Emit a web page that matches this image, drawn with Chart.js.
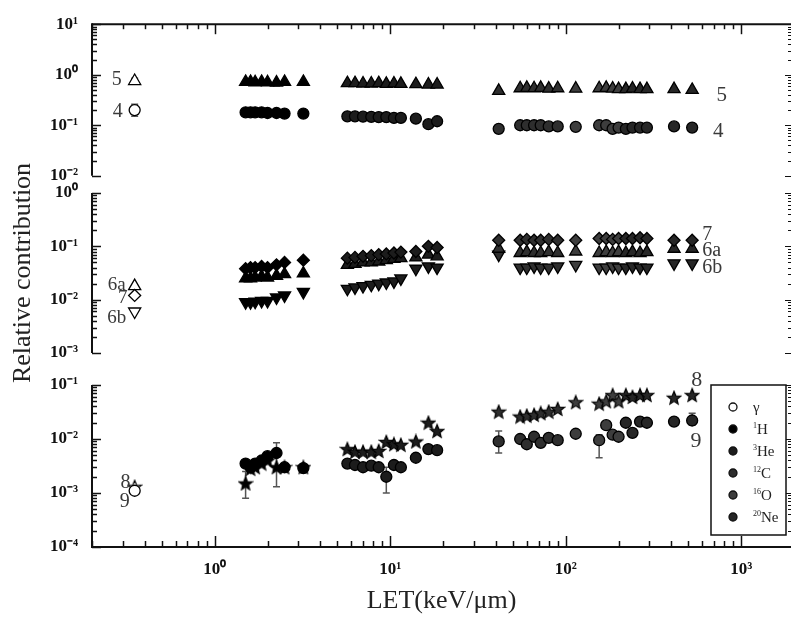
<!DOCTYPE html>
<html>
<head>
    <title>Relative contribution vs LET</title>
    <script src="https://cdn.jsdelivr.net/npm/chart.js@4.4.1/dist/chart.umd.min.js"></script>
    <style>
        body { margin: 0; background: #fff; }
        #wrap { position: relative; width: 792px; height: 619px; overflow: hidden; }
        #wrap canvas { position: absolute; left: 0; }
    </style>
</head>
<body>
<div id="wrap">
    <canvas id="panelTop" width="792" height="200" style="top:0px"></canvas>
    <canvas id="panelMid" width="792" height="270" style="top:140px"></canvas>
    <canvas id="panelBot" width="792" height="259" style="top:360px"></canvas>
</div>
<script>
    // Radiations (legend) - mass number + symbol
    const ionMass = ['', '1', '3', '12', '16', '20'];
    const ionSymbol = ['γ', 'H', 'He', 'C', 'O', 'Ne'];

    // LET (keV/um) of each measured point, grouped by radiation
    const letValues = [
        0.35,                                                      // gamma
        1.5, 1.6, 1.7, 1.85, 2.0, 2.25, 2.5, 3.2,                   // 1H
        5.7, 6.3, 7.0, 7.8, 8.6, 9.5, 10.5, 11.5, 14, 16.5, 18.5,   // 3He
        41.5, 55, 60, 66, 72, 80, 90,                               // 12C
        114, 155, 170, 185, 200,                                    // 16O
        220, 240, 265, 290, 414, 525                                // 20Ne
    ];
    const ionOf = [0, 1,1,1,1,1,1,1,1, 2,2,2,2,2,2,2,2,2,2,2, 3,3,3,3,3,3,3, 4,4,4,4,4, 5,5,5,5,5,5];

    // top panel
    const s5 = [0.75,
        0.72, 0.72, 0.71, 0.72, 0.71, 0.70, 0.72, 0.72,
        0.68, 0.68, 0.67, 0.67, 0.68, 0.66, 0.67, 0.66, 0.65, 0.64, 0.64,
        0.48, 0.54, 0.55, 0.54, 0.55, 0.53, 0.54,
        0.53, 0.54, 0.55, 0.53, 0.52,
        0.52, 0.53, 0.52, 0.52, 0.52, 0.50];
    const s4 = [0.2,
        0.18, 0.18, 0.18, 0.18, 0.175, 0.175, 0.17, 0.17,
        0.15, 0.15, 0.148, 0.147, 0.145, 0.145, 0.14, 0.14, 0.135, 0.105, 0.12,
        0.085, 0.1, 0.1, 0.1, 0.1, 0.095, 0.095,
        0.093, 0.1, 0.1, 0.085, 0.09,
        0.085, 0.09, 0.09, 0.09, 0.095, 0.09];

    // middle panel
    const s7 = [0.012,
        0.038, 0.04, 0.04, 0.042, 0.04, 0.045, 0.05, 0.055,
        0.06, 0.062, 0.065, 0.067, 0.07, 0.072, 0.075, 0.078, 0.08, 0.1, 0.095,
        0.13, 0.13, 0.135, 0.13, 0.13, 0.135, 0.13,
        0.13, 0.14, 0.14, 0.135, 0.14,
        0.14, 0.14, 0.145, 0.14, 0.13, 0.13];
    const s6a = [0.018,
        0.025, 0.025, 0.026, 0.027, 0.026, 0.028, 0.03, 0.031,
        0.045, 0.047, 0.05, 0.05, 0.052, 0.055, 0.058, 0.06, 0.062, 0.07, 0.065,
        0.09, 0.075, 0.078, 0.075, 0.075, 0.078, 0.075,
        0.08, 0.075, 0.078, 0.075, 0.078,
        0.075, 0.078, 0.075, 0.078, 0.09, 0.09];
    const s6b = [0.006,
        0.009, 0.009, 0.0092, 0.0095, 0.0095, 0.011, 0.012, 0.014,
        0.016, 0.017, 0.018, 0.019, 0.02, 0.021, 0.022, 0.025, 0.038, 0.042, 0.04,
        0.07, 0.04, 0.04, 0.042, 0.04, 0.04, 0.042,
        0.045, 0.04, 0.04, 0.042, 0.04,
        0.04, 0.042, 0.04, 0.04, 0.048, 0.048];

    // bottom panel
    const s8 = [0.0013,
        0.0015, 0.0028, 0.003, 0.0035, 0.004, 0.003, 0.003, 0.003,
        0.0065, 0.0058, 0.0058, 0.0058, 0.006, 0.0088, 0.008, 0.0078, 0.009, 0.02, 0.014,
        0.032, 0.026, 0.027, 0.028, 0.03, 0.032, 0.036,
        0.048, 0.045, 0.05, 0.065, 0.05,
        0.065, 0.06, 0.065, 0.065, 0.058, 0.065];
    const s9 = [0.0011,
        0.0035, 0.003, 0.0035, 0.004, 0.0048, 0.0055, 0.003, 0.0029,
        0.0035, 0.0033, 0.003, 0.0032, 0.003, 0.002, 0.0033, 0.003, 0.0045, 0.0065, 0.0062,
        0.009, 0.01, 0.008, 0.011, 0.0085, 0.0105, 0.0095,
        0.0125, 0.0095, 0.018, 0.012, 0.011,
        0.02, 0.013, 0.021, 0.02, 0.021, 0.022];

    // error bars: point index -> [low, high]
    const err5 = {0: [0.65, 0.85], 6: [0.6, 0.72]};
    const err4 = {0: [0.15, 0.26], 6: [0.15, 0.2], 20: [0.07, 0.1]};
    const err8 = {1: [0.0008, 0.0025]};
    const err9 = {6: [0.0013, 0.0085], 14: [0.001, 0.003], 20: [0.0055, 0.014], 28: [0.0045, 0.012], 37: [0.018, 0.03]};

    const FONT = "'Liberation Serif', 'Times New Roman', serif";
    const ionFill = ['#ffffff', '#000000', '#1c1c1c', '#2e2e2e', '#3d3d3d', '#262626'];
    const SUP = {'-': '⁻', '0': '⁰', '1': '¹', '2': '²', '3': '³', '4': '⁴'};

    function powerLabel(v) {
        const e = Math.log10(v);
        if (Math.abs(e - Math.round(e)) > 1e-6) return '';
        return '10' + String(Math.round(e)).split('').map(c => SUP[c]).join('');
    }

    // filled star used as point image
    function makeStar(fill) {
        const c = document.createElement('canvas');
        c.width = c.height = 16;
        const g = c.getContext('2d');
        g.beginPath();
        for (let i = 0; i < 10; i++) {
            const r = i % 2 ? 3.1 : 7.0;
            const a = -Math.PI / 2 + i * Math.PI / 5;
            const px = 8 + r * Math.cos(a), py = 8.5 + r * Math.sin(a);
            if (i) g.lineTo(px, py); else g.moveTo(px, py);
        }
        g.closePath();
        g.fillStyle = fill;
        g.fill();
        g.lineWidth = 1.2;
        g.strokeStyle = '#000';
        g.stroke();
        return c;
    }
    const starImgs = ionFill.map(makeStar);

    const markerSize = {circle: 5.5, triangle: 7, rectRot: 6, star: 7};

    function series(label, values, style, err, rotation) {
        return {
            label: label,
            data: letValues.map((x, i) => ({x: x, y: values[i]})),
            pointStyle: style === 'star' ? ionOf.map(k => starImgs[k]) : style,
            pointRadius: markerSize[style],
            pointRotation: rotation || 0,
            pointBackgroundColor: ionOf.map(k => ionFill[k]),
            pointBorderColor: '#000',
            pointBorderWidth: 1.3,
            showLine: false,
            errorBars: err || {}
        };
    }

    function logSteps(min, max) {
        const out = [];
        for (let e = Math.floor(Math.log10(min)); e <= Math.ceil(Math.log10(max)); e++) {
            for (let k = 1; k <= 9; k++) {
                const v = k * Math.pow(10, e);
                if (v >= min * 0.9999 && v <= max * 1.0001) out.push([v, k === 1]);
            }
        }
        return out;
    }

    // axes frame, inward ticks, error bars, series labels, legend
    function panelDecor(cfg) {
        return {
            id: 'decor',
            beforeDatasetsDraw(chart) {
                const ctx = chart.ctx, xs = chart.scales.x, ys = chart.scales.y;
                ctx.save();
                ctx.strokeStyle = '#555';
                ctx.lineWidth = 1.5;
                chart.data.datasets.forEach(ds => {
                    Object.keys(ds.errorBars).forEach(i => {
                        const [lo, hi] = ds.errorBars[i];
                        const px = xs.getPixelForValue(ds.data[i].x);
                        const y1 = ys.getPixelForValue(lo), y2 = ys.getPixelForValue(hi);
                        ctx.beginPath();
                        ctx.moveTo(px, y1); ctx.lineTo(px, y2);
                        ctx.moveTo(px - 3.5, y1); ctx.lineTo(px + 3.5, y1);
                        ctx.moveTo(px - 3.5, y2); ctx.lineTo(px + 3.5, y2);
                        ctx.stroke();
                    });
                });
                ctx.restore();
            },
            afterDraw(chart) {
                const ctx = chart.ctx, a = chart.chartArea, xs = chart.scales.x, ys = chart.scales.y;
                const seg = (x1, y1, x2, y2, w) => {
                    ctx.lineWidth = w;
                    ctx.beginPath(); ctx.moveTo(x1, y1); ctx.lineTo(x2, y2); ctx.stroke();
                };
                ctx.save();
                ctx.strokeStyle = '#111';
                seg(a.left, a.top - (cfg.top ? 1 : 0), a.left, a.bottom + (cfg.bottom ? 1 : 0), 2);
                if (cfg.top) seg(a.left, a.top, a.right, a.top, 2);
                if (cfg.bottom) seg(a.left, a.bottom, a.right, a.bottom, 2);
                logSteps(ys.min, ys.max).forEach(([v, major]) => {
                    const py = Math.round(ys.getPixelForValue(v)) + 0.5;
                    seg(a.left, py, a.left + (major ? 9 : 5), py, 1.5);
                    seg(a.right, py, a.right - (major ? 6 : 3), py, 1);
                });
                logSteps(xs.min, xs.max).forEach(([v, major]) => {
                    const px = Math.round(xs.getPixelForValue(v)) + 0.5;
                    if (cfg.top) seg(px, a.top, px, a.top + (major ? 10 : 5), 1.5);
                    if (cfg.bottom) seg(px, a.bottom, px, a.bottom - (major ? 11 : 6), 1.5);
                });

                ctx.fillStyle = '#3a3a3a';
                ctx.textBaseline = 'middle';
                cfg.labels.forEach(it => {
                    ctx.font = it.size + 'px ' + FONT;
                    ctx.textAlign = it.align || 'center';
                    ctx.fillText(it.text, xs.getPixelForValue(it.x), ys.getPixelForValue(it.y));
                });

                if (cfg.legend) {
                    const left = 711, right = a.right - 5, top = a.top, bottom = a.bottom - 12;
                    ctx.fillStyle = '#fff';
                    ctx.fillRect(left, top, right - left, bottom - top);
                    ctx.lineWidth = 1.5;
                    ctx.strokeStyle = '#111';
                    ctx.strokeRect(left, top, right - left, bottom - top);
                    ionSymbol.forEach((sym, k) => {
                        const cy = top + 22 + k * 22;
                        ctx.beginPath();
                        ctx.arc(733, cy, 4, 0, Math.PI * 2);
                        ctx.fillStyle = ionFill[k];
                        ctx.fill();
                        ctx.lineWidth = 1.3;
                        ctx.stroke();
                        ctx.fillStyle = '#222';
                        ctx.textAlign = 'left';
                        let tx = 753;
                        if (ionMass[k]) {
                            ctx.font = '8px ' + FONT;
                            ctx.textBaseline = 'alphabetic';
                            ctx.fillText(ionMass[k], tx, cy - 1);
                            tx += ctx.measureText(ionMass[k]).width;
                        }
                        ctx.font = '15px ' + FONT;
                        ctx.textBaseline = 'middle';
                        ctx.fillText(sym, tx, cy + 1);
                    });
                }
                ctx.restore();
            }
        };
    }

    function makePanel(id, yMin, yMax, datasets, cfg) {
        const tickFont = {family: FONT, size: 17, weight: 'bold'};
        return new Chart(document.getElementById(id), {
            type: 'scatter',
            data: {datasets: datasets},
            options: {
                responsive: false,
                animation: false,
                events: [],
                layout: {padding: cfg.padding, autoPadding: false},
                plugins: {legend: {display: false}, tooltip: {enabled: false}},
                scales: {
                    x: {
                        type: 'logarithmic',
                        min: 0.2,
                        max: 1920,
                        display: !!cfg.xLabels,
                        afterFit: s => {
                            if (cfg.xLabels) s.height = 72;
                            s.paddingLeft = 0;
                            s.paddingRight = 0;
                        },
                        grid: {display: false, drawTicks: false},
                        border: {display: false},
                        ticks: {autoSkip: false, maxRotation: 0, padding: 12, color: '#111', font: tickFont, callback: powerLabel},
                        title: {display: true, text: 'LET(keV/μm)', color: '#222', font: {family: FONT, size: 26}, padding: {top: 0, bottom: 2}}
                    },
                    y: {
                        type: 'logarithmic',
                        min: yMin,
                        max: yMax,
                        afterFit: s => { s.width = 92; },
                        grid: {display: false, drawTicks: false},
                        border: {display: false},
                        ticks: {autoSkip: false, padding: 14, color: '#111', font: tickFont, callback: powerLabel},
                        title: {display: !!cfg.yTitle, text: 'Relative contribution', color: '#222', font: {family: FONT, size: 26}, padding: {top: 8, bottom: 0}}
                    }
                }
            },
            plugins: [panelDecor(cfg)]
        });
    }

    makePanel('panelTop', 0.01, 10, [
        series('4', s4, 'circle', err4),
        series('5', s5, 'triangle', err5)
    ], {
        padding: {left: 0, right: 1, top: 18, bottom: 22},
        top: true,
        labels: [
            {text: '5', x: 0.277, y: 0.8, size: 20},
            {text: '4', x: 0.28, y: 0.185, size: 20},
            {text: '5', x: 774, y: 0.386, size: 21},
            {text: '4', x: 740, y: 0.075, size: 21}
        ]
    });

    makePanel('panelMid', 0.001, 1, [
        series('7', s7, 'rectRot'),
        series('6a', s6a, 'triangle'),
        series('6b', s6b, 'triangle', null, 180)
    ], {
        padding: {left: 0, right: 1, top: 53, bottom: 57},
        yTitle: true,
        labels: [
            {text: '6a', x: 0.277, y: 0.0188, size: 19},
            {text: '7', x: 0.299, y: 0.0107, size: 19},
            {text: '6b', x: 0.277, y: 0.0045, size: 19},
            {text: '7', x: 600, y: 0.163, size: 20, align: 'left'},
            {text: '6a', x: 600, y: 0.082, size: 20, align: 'left'},
            {text: '6b', x: 600, y: 0.039, size: 20, align: 'left'}
        ]
    });

    makePanel('panelBot', 0.0001, 0.1, [
        series('9', s9, 'circle', err9),
        series('8', s8, 'star', err8)
    ], {
        padding: {left: 0, right: 1, top: 25, bottom: 0},
        bottom: true,
        xLabels: true,
        legend: true,
        labels: [
            {text: '8', x: 0.31, y: 0.00153, size: 20},
            {text: '9', x: 0.307, y: 0.00068, size: 20},
            {text: '8', x: 557, y: 0.124, size: 22},
            {text: '9', x: 552, y: 0.0092, size: 22}
        ]
    });
</script>
</body>
</html>
